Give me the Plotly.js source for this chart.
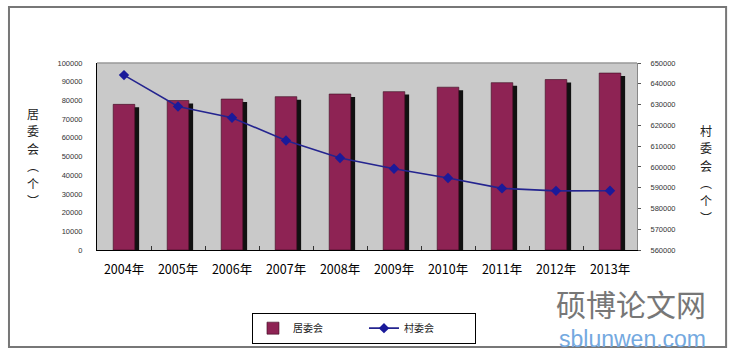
<!DOCTYPE html>
<html>
<head>
<meta charset="utf-8">
<script src="https://cdn.plot.ly/plotly-3.0.1.min.js"></script>
<style>
html,body{margin:0;padding:0;background:#fff;}
#chart{width:736px;height:357px;}
</style>
</head>
<body>
<div id="chart"></div>
<script>
var years = ['2004年','2005年','2006年','2007年','2008年','2009年','2010年','2011年','2012年','2013年'];
var juweihui = [77884, 79947, 80717, 82006, 83413, 84689, 87057, 89480, 91153, 94620];
var cunweihui = [644166, 629079, 623669, 612709, 604285, 599078, 594658, 589653, 588475, 588547];
var leftTicks = [0,10000,20000,30000,40000,50000,60000,70000,80000,90000,100000];
var rightTicks = [560000,570000,580000,590000,600000,610000,620000,630000,640000,650000];
var leftTitle = ['居','委','会','︵','个','︶'];
var rightTitle = ['村','委','会','︵','个','︶'];

var cjk = '"Noto Sans CJK SC", "Liberation Sans", Arial, sans-serif';
var lat = '"Liberation Sans", Arial, sans-serif';

var shadow = {
  type:'bar', x:years, y:juweihui, base:-1600, width:0.4, offset:-0.12,
  marker:{color:'#111'}, showlegend:false, hoverinfo:'skip', yaxis:'y'
};
var bars = {
  type:'bar', name:'居委会', x:years, y:juweihui, width:0.4, offset:-0.2,
  marker:{color:'#8e2354', line:{color:'#3a0a1e', width:0.6}}, yaxis:'y'
};
var line = {
  type:'scatter', mode:'lines+markers', name:'村委会', x:years, y:cunweihui, yaxis:'y2',
  line:{color:'#24248f', width:1.6},
  marker:{symbol:'diamond', size:8, color:'#1a1a9a'}
};

// plot area: top 63px, bottom 250px (187px tall)
function py(px){ return (250 - px) / 187; }
function pxX(px){ return (px - 97) / 540; }

var annotations = [];
leftTitle.forEach(function(c, i){
  annotations.push({text:c, xref:'paper', yref:'paper', x:pxX(33), y:py(113 + i*17.5),
    xanchor:'center', yanchor:'middle', showarrow:false, borderpad:0,
    font:{family:cjk, size:12, color:'#222'}});
});
rightTitle.forEach(function(c, i){
  annotations.push({text:c, xref:'paper', yref:'paper', x:pxX(706), y:py(130 + i*17.5),
    xanchor:'center', yanchor:'middle', showarrow:false, borderpad:0,
    font:{family:cjk, size:12, color:'#222'}});
});
annotations.push({text:'硕博论文网', xref:'paper', yref:'paper', x:pxX(631), y:py(303), xanchor:'center', yanchor:'middle',
  showarrow:false, borderpad:0, font:{family:cjk, size:30, color:'#777'}});
annotations.push({text:'sblunwen.com', xref:'paper', yref:'paper', x:pxX(632), y:py(339), xanchor:'center', yanchor:'middle',
  showarrow:false, borderpad:0, font:{family:lat, size:23, color:'#74a9e0'}});

var layout = {
  width:736, height:357,
  margin:{l:97, r:99, t:63, b:107},
  paper_bgcolor:'#ffffff',
  plot_bgcolor:'#c9c9c9',
  barmode:'overlay',
  showlegend:true,
  legend:{orientation:'h', x:0.287, y:-0.335, xanchor:'left', yanchor:'top',
    bgcolor:'#ffffff', bordercolor:'#000', borderwidth:1,
    font:{family:cjk, size:10, color:'#222'}, traceorder:'normal', itemwidth:30,
    entrywidth:66, entrywidthmode:'pixels'},
  xaxis:{type:'category', tickfont:{family:cjk, size:12.5, color:'#000'},
    showline:true, linecolor:'#000', linewidth:1.2, mirror:false,
    ticks:'inside', ticklen:4, tickson:'boundaries', tickcolor:'#333',
    showgrid:false, range:[-0.5,9.5], ticklabelstandoff:8},
  yaxis:{range:[0,100000], tickvals:leftTicks, ticktext:leftTicks.map(String),
    tickfont:{family:lat, size:7.5, color:'#333'}, showgrid:false,
    showline:true, linecolor:'#000', linewidth:1, ticks:'', zeroline:false, ticklabelstandoff:12},
  yaxis2:{range:[560000,650000], overlaying:'y', side:'right', tickvals:rightTicks, ticktext:rightTicks.map(String),
    tickfont:{family:lat, size:7.5, color:'#333'}, showgrid:false,
    showline:true, linecolor:'#888', linewidth:1, ticks:'outside', ticklen:3, tickcolor:'#555', zeroline:false, ticklabelstandoff:8},
  shapes:[
    {type:'rect', xref:'paper', yref:'paper', x0:-0.163, x1:1.165, y0:-0.519, y1:1.30,
     line:{color:'#777', width:2}, fillcolor:'rgba(0,0,0,0)', layer:'below'},
    {type:'line', xref:'paper', yref:'paper', x0:0, x1:1, y0:1, y1:1, line:{color:'#999', width:1.5}}
  ],
  annotations:annotations
};

Plotly.newPlot('chart', [shadow, bars, line], layout, {displayModeBar:false, staticPlot:true});
</script>
</body>
</html>
